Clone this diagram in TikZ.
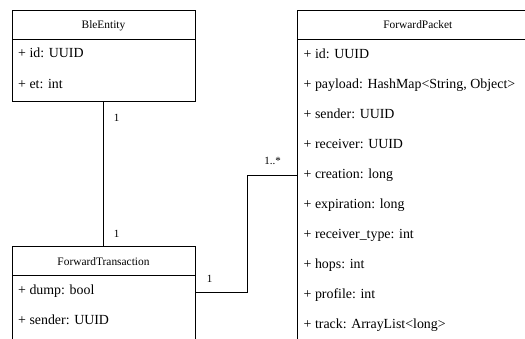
\documentclass[tikz,border=0pt]{standalone}
\usepackage{fontspec}
\setmainfont{Liberation Serif}
\begin{document}
\begin{tikzpicture}[x=1pt,y=-1pt,
  classbox/.style={draw=black,line width=1pt,rectangle,inner sep=0pt,outer sep=0pt},
  classtitle/.style={anchor=base,inner sep=0pt,font=\fontsize{11.4}{13}\selectfont},
  attr/.style={anchor=base west,inner sep=0pt,font=\fontsize{13.9}{16}\selectfont},
  mult/.style={anchor=base,inner sep=0pt,font=\fontsize{11}{13}\selectfont},
  assoc/.style={draw=black,line width=0.9pt}]
\useasboundingbox (0,0) rectangle (525,338);
\clip (0,0) rectangle (525,338);

% BleEntity class
\node[classbox,minimum width=183pt,minimum height=91pt] (ble) at (103.5,55.5) {};
\draw[line width=1pt] ([yshift=-29pt]ble.north west) -- ([yshift=-29pt]ble.north east);
\node[classtitle] (bletitle) at (103.5,28.3) {BleEntity};
\node[attr] (bleid) at (18,57.5) {+ id: UUID};
\node[attr] (bleet) at (18,88) {+ et: int};

% ForwardTransaction class (continues below the page edge)
\node[classbox,minimum width=183pt,minimum height=154pt] (ft) at (103.5,323) {};
\draw[line width=1pt] ([yshift=-29.5pt]ft.north west) -- ([yshift=-29.5pt]ft.north east);
\node[classtitle] (fttitle) at (103.5,265) {ForwardTransaction};
\node[attr] (ftdump) at (18,294.3) {+ dump: bool};
\node[attr] (ftsender) at (18,324.3) {+ sender: UUID};

% ForwardPacket class (continues past the right and bottom edges)
\node[classbox,minimum width=240.3pt,minimum height=350pt] (fp) at (417.85,185) {};
\draw[line width=1pt] ([yshift=-29.3pt]fp.north west) -- ([yshift=-29.3pt]fp.north east);
\node[classtitle] (fptitle) at (417.85,28.3) {ForwardPacket};
\node[attr] (fp1) at (303.5,58) {+ id: UUID};
\node[attr] (fp2) at (303.5,88) {+ payload: HashMap<String, Object>};
\node[attr] (fp3) at (303.5,118) {+ sender: UUID};
\node[attr] (fp4) at (303.5,148) {+ receiver: UUID};
\node[attr] (fp5) at (303.5,178) {+ creation: long};
\node[attr] (fp6) at (303.5,208) {+ expiration: long};
\node[attr] (fp7) at (303.5,238) {+ receiver\_type: int};
\node[attr] (fp8) at (303.5,268) {+ hops: int};
\node[attr] (fp9) at (303.5,298) {+ profile: int};
\node[attr] (fp10) at (303.5,328) {+ track: ArrayList<long>};

% associations
\draw[assoc] (ble.south) -- (ft.north);
\coordinate (bend) at (247,175);
\draw[assoc] (ft.east |- 0,292.7) -| (bend) -- (fp.west |- bend);

% multiplicities
\node[mult] (m1) at (116.7,121.7) {1};
\node[mult] (m2) at (116.7,237.7) {1};
\node[mult] (m3) at (209.5,282.7) {1};
\node[mult] (m4) at (272.5,164.3) {1..*};
\end{tikzpicture}
\end{document}
